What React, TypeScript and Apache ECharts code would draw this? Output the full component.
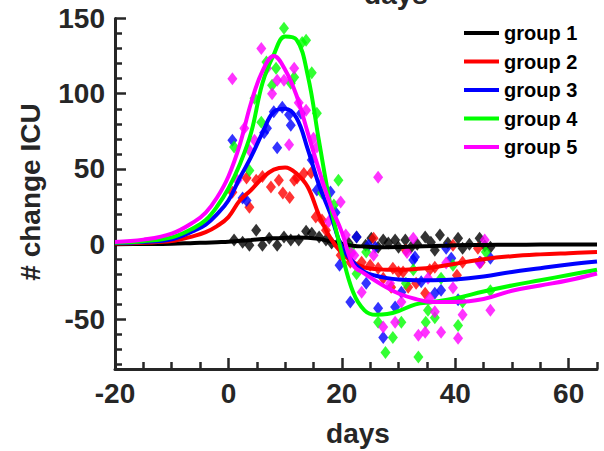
import React, { useEffect, useRef } from "react";
import * as echarts from "echarts";

const groupNames = ["group 1", "group 2", "group 3", "group 4", "group 5"];
const groupColors = ["#000000", "#ff0000", "#0000ff", "#00ff00", "#ff00ff"];

const xMajor = [-20, 0, 20, 40, 60];
const xMinor = [-15, -10, -5, 5, 10, 15, 25, 30, 35, 45, 50, 55, 65];
const yMajor = [-50, 0, 50, 100, 150];
const yMinor = [-80, -70, -60, -40, -30, -20, -10, 10, 20, 30, 40, 60, 70, 80, 90, 110, 120, 130, 140];

const curveX = [-20, -15, -10, -6, -4, -2, 0, 2, 4, 6, 8, 10, 12, 14, 16, 18, 20, 22, 24, 26, 28, 30, 33, 36, 40, 45, 50, 55, 60, 65];
const fit1 = [0, 0.1, 0.3, 0.8, 1, 1.3, 1.6, 2.2, 2.8, 3.4, 3.9, 4.2, 4.4, 4.3, 3.5, 1.8, 0.2, -1, -1.6, -2, -2, -1.9, -1.5, -1.2, -0.8, -0.5, -0.4, -0.3, -0.3, -0.3];
const fit2 = [0.5, 1, 2, 5.5, 8, 12, 18, 29, 36, 44, 49.5, 51, 47, 38, 19, 4, -6, -12, -15.5, -16.5, -17, -17, -16.5, -15.5, -13, -10, -8, -6.8, -6, -5.3];
const fit3 = [0.8, 1.5, 3.3, 9, 13, 20, 29, 44, 58, 74, 88, 90, 84, 63, 39, 20, -2, -12, -18.5, -21, -22.6, -23.5, -24, -24, -23.5, -21.5, -18.5, -16, -13.5, -11.5];
const fit4 = [1, 2, 4.5, 11, 16, 25, 37, 53, 74, 107, 126, 138, 136, 112, 68, 26, -6, -32, -44, -47, -46.5, -44.5, -40, -38.5, -36, -31.5, -27.5, -24, -20.5, -17];
const fit5 = [1.5, 3, 7, 15, 21, 31, 45, 66, 94, 115, 125, 116, 99, 74, 49, 26, 8, -14, -19.6, -24.5, -29, -32.8, -36.5, -38.5, -38.5, -36.5, -31, -27.5, -24, -19.5];

const obs1 = [[1, 2.7], [2.5, 1.3], [3.7, -0.7], [4.9, 9.3], [6, -0.7], [7.2, 4], [8.6, -0.7], [9.8, 4.7], [11, 2.7], [12.4, 2.7], [13.7, 8.5], [14.7, 7.3], [16, 4.7], [17.2, 2.7], [18.2, 0.7], [19.4, 0.7], [20.3, -2], [21.2, 0.7], [22.6, 4.7], [24.2, -0.7], [25.2, 4], [26.4, -2], [27.3, 2.7], [28.2, 0.7], [29.4, 2.7], [30, -2], [31.2, 2.7], [32.2, -2], [33.3, 0], [34.7, 4.7], [35.7, 1.3], [36.4, -4], [37.3, 6], [38.7, 0.7], [40.5, 4], [41.3, -2.7], [42.5, 0], [44.3, 4], [45.2, -1], [46.2, -2]];
const obs2 = [[0.7, 34.5], [3.2, 44], [3.7, 24.6], [4.9, 42.5], [6, 45], [7.5, 38], [8.9, 42.5], [9.6, 34], [10.8, 31], [11.6, 42.5], [12.1, 44], [13.3, 47], [14.6, 47.5], [15.4, 18], [16.5, 16], [17.2, 9.3], [19.8, -7.3], [21.5, -12], [23.5, -12], [25, -14], [25.6, 4], [26.4, -16], [27.3, -22.6], [28.7, -28.6], [29, -16], [30, -18.6], [30.8, -18.6], [31.3, -4], [31.7, -28.6], [33.1, -26], [34.7, -32.6], [35.5, -17], [36.4, -15.3], [39.6, -0.7], [40.3, -20.6], [41.3, -12], [44, -2.7], [44.5, -12]];
const obs3 = [[0.7, 69], [2.5, 30.6], [3.2, 29], [6.3, 74], [6.8, 77], [8, 88], [8.6, 64], [9.5, 91], [10.7, 86], [11, 79], [12.8, 87], [14.7, 56], [15.6, 36], [18, 34.6], [18.9, 21], [19.6, -14], [21.5, -38.5], [22.6, 4.7], [24.3, -26], [24.7, -0.7], [25.9, -2], [26.4, -42.6], [27.3, -62], [29.4, -41.8], [30.5, -32], [32.6, -10.6], [32.9, -8.6], [34, -25], [36.4, -32.6], [37.5, -30.6], [38.4, -2.7], [39.3, -9.3], [40.5, -37], [44.3, -12], [46.2, -9.3]];
const obs4 = [[1, 64.5], [3.7, 49], [4.6, 97], [5.8, 81], [6.7, 121], [7.7, 105.6], [8.4, 117], [9.8, 143.5], [11, 107], [11.6, 111], [13, 134], [13.7, 135.5], [14.7, 114], [15.6, 87], [16.5, 34], [18.6, 26], [19.4, 42.5], [21.5, -2.7], [22.6, -19.6], [24.3, -5.3], [26.4, -52], [27.7, -72], [29, -62], [30.5, -52], [31.3, -26], [32.6, -17], [33.5, -75], [34.8, -52], [35.2, -44], [36.4, -49], [37.5, -22.6], [39.6, -14], [40.5, -54], [41.3, -38.5], [45.4, -5.3], [46.2, -31]];
const obs5 = [[0.7, 110], [1.6, 42.5], [2.8, 77], [3.7, 62.5], [4.6, 69], [5.8, 130], [6.8, 117], [7.7, 100], [8.6, 109], [9.8, 109], [10.7, 66], [11.6, 117], [12.4, 94], [13.7, 89], [15, 70.4], [15.6, 64.5], [16.5, 41], [17.7, 15], [19.8, 28], [20.7, 6], [21.7, -6], [22.2, -7.3], [23.5, -32], [25.6, -7.3], [26.4, 44.5], [27.3, -55], [28.5, -26], [29.4, -52], [30.5, -38.5], [31.5, -5.5], [32.6, 4], [33.5, -60.5], [34.7, -58.5], [35.2, -22.6], [35.5, -36], [36.4, -45], [37.5, -58.5], [38.4, -12.6], [39.6, -29], [40.5, -62.5], [41.3, -47], [44.3, -12.6], [45.2, 2.7], [46.2, -44]];

const fits = [fit1, fit2, fit3, fit4, fit5];
const observations = [obs1, obs2, obs3, obs4, obs5];

const FONT = "'Liberation Sans', Arial, Helvetica, sans-serif";
const AXIS_COLOR = "#262626";

export default function App() {
  const ref = useRef<HTMLDivElement>(null);
  useEffect(() => {
    if (!ref.current) return;
    const chart = echarts.init(ref.current, undefined, { renderer: "svg" });
    const scatterSeries = observations.map((obs, i) => ({
      type: "scatter",
      name: groupNames[i] + " data",
      data: obs,
      symbol: "diamond",
      symbolSize: [10, 13],
      itemStyle: { color: groupColors[i] },
      xAxisIndex: 0,
      yAxisIndex: 0,
    }));
    const lineSeries = fits.map((fit, i) => ({
      type: "line",
      name: groupNames[i],
      data: curveX.map((x, j) => [x, fit[j]]),
      showSymbol: false,
      smooth: 0.4,
      lineStyle: { color: groupColors[i], width: 4 },
      itemStyle: { color: groupColors[i] },
      xAxisIndex: 0,
      yAxisIndex: 0,
    }));
    const axisLabelStyle = {
      fontSize: 28,
      fontWeight: "bold",
      color: AXIS_COLOR,
      fontFamily: FONT,
    };
    chart.setOption({
      animation: false,
      grid: { left: 115, right: 7, top: 18.5, bottom: 82, containLabel: false },
      xAxis: [
        {
          type: "value",
          min: -20,
          max: 65,
          position: "bottom",
          axisLine: { show: true, onZero: false, lineStyle: { color: AXIS_COLOR, width: 3 } },
          axisTick: { show: true, inside: true, length: 11, customValues: xMajor, lineStyle: { color: AXIS_COLOR, width: 2.5 } },
          axisLabel: { ...axisLabelStyle, customValues: xMajor, margin: 10 },
          splitLine: { show: false },
        },
        {
          type: "value",
          min: -20,
          max: 65,
          position: "bottom",
          offset: 0,
          axisLine: { show: false, onZero: false },
          axisTick: { show: true, inside: true, length: 7, customValues: xMinor, lineStyle: { color: AXIS_COLOR, width: 2.5 } },
          axisLabel: { show: false },
          splitLine: { show: false },
        },
      ],
      yAxis: [
        {
          type: "value",
          min: -83,
          max: 150,
          position: "left",
          axisLine: { show: true, onZero: false, lineStyle: { color: AXIS_COLOR, width: 3 } },
          axisTick: { show: true, inside: true, length: 11, customValues: yMajor, lineStyle: { color: AXIS_COLOR, width: 2.5 } },
          axisLabel: { ...axisLabelStyle, customValues: yMajor, margin: 10 },
          splitLine: { show: false },
        },
        {
          type: "value",
          min: -83,
          max: 150,
          position: "left",
          offset: 0,
          axisLine: { show: false, onZero: false },
          axisTick: { show: true, inside: true, length: 7, customValues: yMinor, lineStyle: { color: AXIS_COLOR, width: 2.5 } },
          axisLabel: { show: false },
          splitLine: { show: false },
        },
      ],
      legend: {
        data: groupNames,
        orient: "vertical",
        left: 459,
        top: 18,
        itemWidth: 35,
        itemHeight: 4,
        itemGap: 8.5,
        icon: "rect",
        selectedMode: false,
        textStyle: { fontSize: 20, lineHeight: 20, fontWeight: "bold", color: "#000", fontFamily: FONT },
      },
      graphic: [
        {
          type: "text",
          x: 30,
          y: 192,
          rotation: Math.PI / 2,
          style: {
            text: "# change ICU",
            fontSize: 28,
            fontWeight: "bold",
            fill: AXIS_COLOR,
            fontFamily: FONT,
            align: "center",
            verticalAlign: "middle",
          },
        },
        {
          type: "text",
          x: 358,
          y: 433,
          style: {
            text: "days",
            fontSize: 28,
            fontWeight: "bold",
            fill: AXIS_COLOR,
            fontFamily: FONT,
            align: "center",
            verticalAlign: "middle",
          },
        },
        {
          type: "text",
          x: 396,
          y: -6,
          style: {
            text: "days",
            fontSize: 28,
            fontWeight: "bold",
            fill: AXIS_COLOR,
            fontFamily: FONT,
            align: "center",
            verticalAlign: "middle",
          },
        },
      ],
      series: [...scatterSeries, ...lineSeries],
    });
    return () => chart.dispose();
  }, []);
  return (
    <div
      ref={ref}
      style={{ position: "absolute", left: 0, top: 0, width: 604, height: 451, background: "#fff" }}
    />
  );
}
